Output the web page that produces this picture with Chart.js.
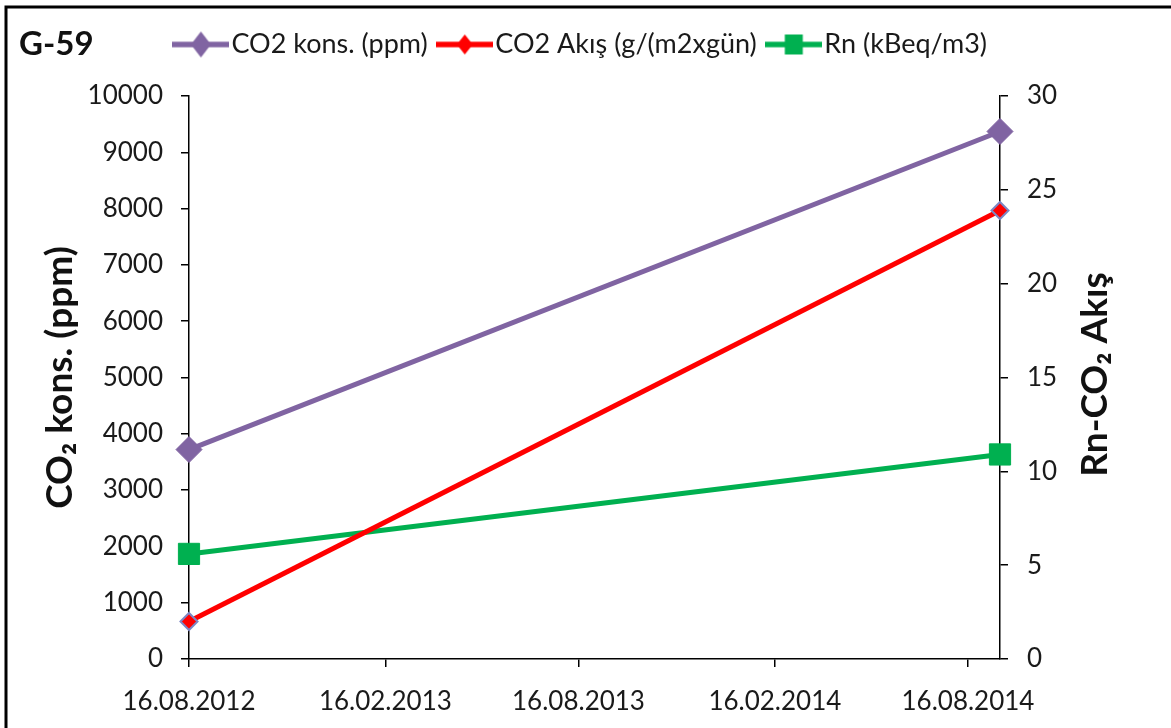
<!DOCTYPE html>
<html>
<head>
<meta charset="utf-8">
<script src="https://cdn.jsdelivr.net/npm/chart.js@4/dist/chart.umd.min.js"></script>
<style>html,body{margin:0;padding:0;background:#fff}canvas{display:block}</style>
</head>
<body>
<canvas id="c" width="1171" height="728"></canvas>
<script>
// ---- data ----
const chartTitle = 'G-59';
const sampleDates = ['2012-08-16', '2014-09-15'];
const co2Kons = [3720, 9370];          // ppm, left axis
const co2Akis = [2.0, 23.9];           // g/(m2xgün), right axis
const rnValues = [5.6, 10.9];          // kBeq/m3, right axis
const seriesNames = ['CO2 kons. (ppm)', 'CO2 Akış (g/(m2xgün)', 'Rn (kBeq/m3)'];
const xTickLabels = ['16.08.2012', '16.02.2013', '16.08.2013', '16.02.2014', '16.08.2014'];
const leftAxisTitle = 'CO₂ kons. (ppm)';
const rightAxisTitle = 'Rn-CO₂ Akış';
const leftRange = [0, 10000, 1000];
const rightRange = [0, 30, 5];

// ---- helpers ----
function isoDay(s) { const [y, m, d] = s.split('-').map(Number); return Date.UTC(y, m - 1, d) / 86400000; }
function dmyDay(s) { const [d, m, y] = s.split('.').map(Number); return Date.UTC(y, m - 1, d) / 86400000; }
const day0 = isoDay(sampleDates[0]);
const xVals = sampleDates.map(s => isoDay(s) - day0);
const xTickVals = xTickLabels.map(s => dmyDay(s) - day0);
const pts = arr => arr.map((v, i) => ({ x: xVals[i], y: v }));

const FONT = 'Lato, "Open Sans", sans-serif';
const PURPLE = '#8064A2', RED = '#FF0000', GREEN = '#00B050', RED_EDGE = '#7C86C4';
const TXT = '#1a1a1a';

function legendImg(color, shape, hw, hh, fill) {
  const W = 57, H = 30, cx = W / 2, cy = H / 2;
  const c = document.createElement('canvas');
  c.width = W; c.height = H;
  const g = c.getContext('2d');
  g.strokeStyle = color; g.lineWidth = 5.5;
  g.beginPath(); g.moveTo(0, cy); g.lineTo(W, cy); g.stroke();
  g.fillStyle = fill;
  g.beginPath();
  if (shape === 'diamond') {
    g.moveTo(cx, cy - hh); g.lineTo(cx + hw, cy); g.lineTo(cx, cy + hh); g.lineTo(cx - hw, cy); g.closePath();
  } else {
    g.rect(cx - hw, cy - hh, 2 * hw, 2 * hh);
  }
  g.fill();
  return c;
}
const legendImgs = [
  legendImg(PURPLE, 'diamond', 10, 13, PURPLE),
  legendImg(RED, 'diamond', 8, 10, RED),
  legendImg(GREEN, 'square', 9, 10, GREEN)
];

const framePlugin = {
  id: 'frame',
  beforeLayout(chart) {
    const lg = chart.legend;
    if (lg && !lg._wrapped) {
      const orig = lg.fit;
      lg.fit = function () { orig.call(this); this.height += 28; };
      lg._wrapped = true;
    }
  },
  beforeDraw(chart) {
    const ctx = chart.ctx;
    ctx.save();
    ctx.fillStyle = '#fff';
    ctx.fillRect(0, 0, chart.width, chart.height);
    ctx.restore();
  },
  afterDraw(chart) {
    const ctx = chart.ctx;
    ctx.save();
    ctx.strokeStyle = '#000'; ctx.lineWidth = 3;
    ctx.beginPath();
    ctx.moveTo(6, chart.height + 5); ctx.lineTo(6, 7); ctx.lineTo(chart.width + 5, 7);
    ctx.stroke();
    ctx.fillStyle = '#111';
    ctx.font = 'bold 33px ' + FONT;
    ctx.textBaseline = 'middle'; ctx.textAlign = 'left';
    ctx.fillText(chartTitle, 19, 44);
    const area = chart.chartArea;
    ctx.translate(1095, (area.top + area.bottom) / 2 - 3);
    ctx.rotate(-Math.PI / 2);
    ctx.textAlign = 'center';
    ctx.font = 'bold 37px ' + FONT;
    ctx.fillText(rightAxisTitle, 0, 0);
    ctx.restore();
  }
};

new Chart(document.getElementById('c'), {
  type: 'line',
  data: {
    datasets: [
      { label: seriesNames[0], data: pts(co2Kons), yAxisID: 'y', borderColor: PURPLE, backgroundColor: PURPLE,
        borderWidth: 5, pointStyle: 'rectRot', pointRadius: 13, pointBackgroundColor: PURPLE, pointBorderColor: PURPLE, pointBorderWidth: 1, clip: false },
      { label: seriesNames[1], data: pts(co2Akis), yAxisID: 'y1', borderColor: RED, backgroundColor: RED,
        borderWidth: 5, pointStyle: 'rectRot', pointRadius: 8.5, pointBackgroundColor: RED, pointBorderColor: RED_EDGE, pointBorderWidth: 2, clip: false },
      { label: seriesNames[2], data: pts(rnValues), yAxisID: 'y1', borderColor: GREEN, backgroundColor: GREEN,
        borderWidth: 5, pointStyle: 'rect', pointRadius: 15, pointBackgroundColor: GREEN, pointBorderColor: GREEN, pointBorderWidth: 1, clip: false }
    ]
  },
  options: {
    responsive: false,
    animation: false,
    layout: { padding: { top: 11, left: 0, right: 0, bottom: 0 } },
    plugins: {
      tooltip: { enabled: false },
      legend: {
        position: 'top', align: 'center',
        labels: {
          usePointStyle: true, pointStyleWidth: 34, boxHeight: 27, padding: 20,
          color: TXT, font: { family: FONT, size: 27 },
          generateLabels(chart) {
            return chart.data.datasets.map((ds, i) => ({
              text: ds.label, pointStyle: legendImgs[i], fillStyle: ds.borderColor, strokeStyle: ds.borderColor,
              lineWidth: 0, hidden: false, datasetIndex: i, fontColor: TXT
            }));
          }
        }
      }
    },
    scales: {
      x: {
        type: 'linear', position: 'bottom', min: xVals[0], max: xVals[xVals.length - 1],
        afterBuildTicks(scale) { scale.ticks = xTickVals.map(v => ({ value: v })); },
        afterFit(scale) { scale.height = 69; },
        ticks: { autoSkip: false, maxRotation: 0, padding: 19, color: TXT, font: { family: FONT, size: 26 },
          callback: (v, i) => xTickLabels[i] },
        grid: { display: true, drawOnChartArea: false, drawTicks: true, tickLength: 8, color: '#000', lineWidth: 1.5 },
        border: { display: true, color: '#000', width: 1.5 }
      },
      y: {
        type: 'linear', position: 'left', min: leftRange[0], max: leftRange[1],
        afterFit(scale) { scale.width = 189; },
        ticks: { stepSize: leftRange[2], padding: 18, color: TXT, font: { family: FONT, size: 26 }, callback: v => String(v) },
        grid: { display: true, drawOnChartArea: false, tickLength: 8, color: '#000', lineWidth: 1.5 },
        border: { display: true, color: '#000', width: 1.5 },
        title: { display: true, text: leftAxisTitle, color: '#111', font: { family: FONT, size: 37, weight: 'bold' }, padding: { top: 38, bottom: 0 } }
      },
      y1: {
        type: 'linear', position: 'right', min: rightRange[0], max: rightRange[1],
        afterFit(scale) { scale.width = 171; },
        ticks: { stepSize: rightRange[2], padding: 19, color: TXT, font: { family: FONT, size: 26 }, callback: v => String(v) },
        grid: { display: true, drawOnChartArea: false, tickLength: 8, color: '#000', lineWidth: 1.5 },
        border: { display: true, color: '#000', width: 1.5 }
      }
    }
  },
  plugins: [framePlugin]
});
</script>
</body>
</html>
